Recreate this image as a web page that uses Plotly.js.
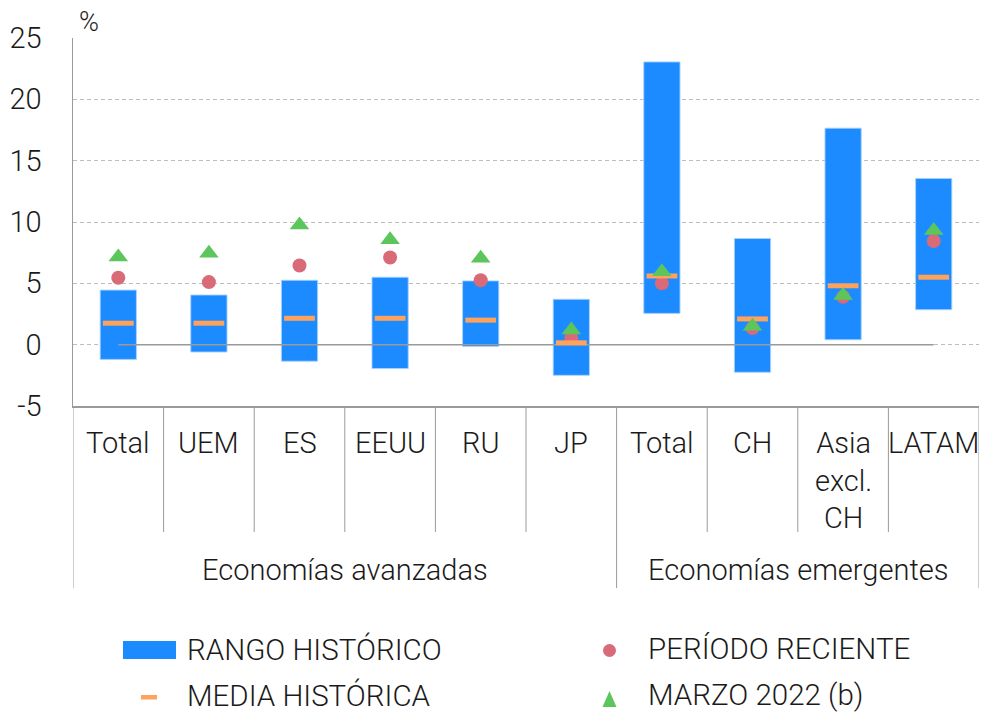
<!DOCTYPE html>
<html>
<head>
<meta charset="utf-8">
<script src="https://cdn.plot.ly/plotly-3.0.1.min.js"></script>
<style>html,body{margin:0;padding:0;background:#fff;}#chart{width:982px;height:713px;}</style>
</head>
<body>
<div id="chart"></div>
<script>
// ---- data ----
const categories = ['Total','UEM','ES','EEUU','RU','JP','Total','CH','Asia<br>excl.<br>CH','LATAM'];
const groups = ['Economías avanzadas','Economías emergentes'];
const groupSizes = [6, 4];
const rangeMin = [-1.2, -0.6, -1.35, -1.95, -0.15, -2.5, 2.55, -2.25, 0.4, 2.85];
const rangeMax = [4.45, 4.05, 5.25, 5.5, 5.2, 3.7, 23.05, 8.65, 17.65, 13.55];
const mediaHistorica = [1.75, 1.75, 2.15, 2.15, 2.0, 0.15, 5.6, 2.1, 4.8, 5.5];
const periodoReciente = [5.45, 5.1, 6.45, 7.1, 5.25, 0.55, 5.0, 1.35, 3.9, 8.45];
const marzo2022 = [7.15, 7.45, 9.75, 8.55, 7.05, 1.2, 5.95, 1.5, 4.0, 9.3];
const legendNames = ['RANGO HISTÓRICO','MEDIA HISTÓRICA','PERÍODO RECIENTE','MARZO 2022 (b)'];
const yTicks = [-5, 0, 5, 10, 15, 20, 25];
const yTickText = ['-5', '0', '5', '10', '15', '20', '25'];

// ---- styles ----
const FONT = 'Roboto, "Liberation Sans", Arial, sans-serif';
const TXT = '#1a1a1a';
const BLUE = '#1b8bff', ORANGE = '#ffa25c', RED = '#d96a78', GREEN = '#5cc65c', AX = '#9a9a9a';
const W = 982, H = 713, ML = 73, MR = 3, MT = 38, MB = 307;
const PW = W - ML - MR, PH = H - MT - MB;
const px2x = px => (px - ML) / PW;
const py2y = py => (H - MB - py) / PH;

const idx = categories.map((_, i) => i);

const traces = [
  {
    type: 'bar', x: idx, base: rangeMin,
    y: rangeMax.map((v, i) => v - rangeMin[i]),
    width: 0.4,
    marker: {color: BLUE, line: {color: 'rgba(170,210,255,0.9)', width: 1}},
    showlegend: false, hoverinfo: 'skip', name: legendNames[0]
  },
  {
    type: 'scatter', mode: 'lines', x: [idx[0], idx[idx.length - 1]], y: [0, 0],
    line: {color: AX, width: 1.5}, showlegend: false, hoverinfo: 'skip'
  },
  {
    type: 'scatter', mode: 'markers', x: idx, y: periodoReciente, name: legendNames[2],
    marker: {symbol: 'circle', size: 14, color: RED}, showlegend: false
  },
  {
    type: 'scatter', mode: 'markers', x: idx, y: mediaHistorica, name: legendNames[1],
    marker: {symbol: 'line-ew', size: 22, color: ORANGE, line: {color: ORANGE, width: 5}}, showlegend: false
  },
  {
    type: 'scatter', mode: 'markers', x: idx, y: marzo2022, name: legendNames[3],
    marker: {symbol: 'triangle-up', size: 17, color: GREEN}, showlegend: false
  }
];

const shapes = [];
const annotations = [];

// inner dividers & group dividers
let start = 0;
const groupBounds = [-0.5];
groupSizes.forEach(n => { start += n; groupBounds.push(start - 0.5); });
for (let i = 0; i < categories.length - 1; i++) {
  const b = i + 0.5;
  if (groupBounds.includes(b)) continue;
  shapes.push({type: 'line', xref: 'x', yref: 'paper', x0: b, x1: b, y0: 0, y1: py2y(532), line: {color: AX, width: 1}});
}
groupBounds.forEach(b => {
  shapes.push({type: 'line', xref: 'x', yref: 'paper', x0: b, x1: b, y0: 0, y1: py2y(588), line: {color: AX, width: 1}});
});

// category labels
categories.forEach((c, i) => {
  annotations.push({xref: 'x', yref: 'paper', x: i, y: py2y(424), yanchor: 'top', xanchor: 'center',
    text: c, showarrow: false, font: {family: FONT, size: 29, color: TXT, weight: 300}});
});
// group labels
let s = 0;
groups.forEach((g, k) => {
  const mid = s + (groupSizes[k] - 1) / 2;
  s += groupSizes[k];
  annotations.push({xref: 'x', yref: 'paper', x: mid, y: py2y(570), yanchor: 'middle', xanchor: 'center',
    text: g, showarrow: false, font: {family: FONT, size: 29, color: TXT, weight: 300}});
});
// % unit
annotations.push({xref: 'paper', yref: 'paper', x: px2x(77), y: py2y(22), xanchor: 'left', yanchor: 'middle',
  text: '%', showarrow: false, font: {family: FONT, size: 27, color: TXT, weight: 300}});

// manual legend
shapes.push({type: 'rect', xref: 'paper', yref: 'paper', x0: px2x(123), x1: px2x(176), y0: py2y(659), y1: py2y(641),
  fillcolor: BLUE, line: {width: 0}});
shapes.push({type: 'rect', xref: 'paper', yref: 'paper', x0: px2x(141), x1: px2x(157), y0: py2y(699.5), y1: py2y(695),
  fillcolor: ORANGE, line: {width: 0}});
shapes.push({type: 'circle', xref: 'paper', yref: 'paper', x0: px2x(603), x1: px2x(616), y0: py2y(657), y1: py2y(644),
  fillcolor: RED, line: {width: 0}});
shapes.push({type: 'path', xref: 'paper', yref: 'paper', xsizemode: 'pixel', ysizemode: 'pixel',
  xanchor: px2x(609.5), yanchor: py2y(699), path: 'M -7,-8 L 7,-8 L 0,8 Z', fillcolor: GREEN, line: {width: 0}});
[[186, 649, 0], [186, 695, 1], [647, 649, 2], [647, 695, 3]].forEach(([x, y, k]) => {
  annotations.push({xref: 'paper', yref: 'paper', x: px2x(x), y: py2y(y), xanchor: 'left', yanchor: 'middle',
    borderpad: 0, text: legendNames[k], showarrow: false,
    font: {family: FONT, size: 29.5, color: TXT, weight: 300}});
});

const layout = {
  width: W, height: H, autosize: false,
  margin: {l: ML, r: MR, t: MT, b: MB, pad: 0},
  paper_bgcolor: '#fff', plot_bgcolor: '#fff',
  showlegend: false,
  font: {family: FONT, color: TXT, weight: 300},
  xaxis: {range: [-0.5, categories.length - 0.5], showticklabels: false, ticks: '', showgrid: false,
    zeroline: false, showline: true, linecolor: AX, linewidth: 1.5, fixedrange: true},
  yaxis: {range: [yTicks[0], yTicks[yTicks.length - 1]], tickvals: yTicks, ticktext: yTickText, ticks: '', showgrid: true,
    gridcolor: '#bdbdbd', griddash: '4px,3px', gridwidth: 1, zeroline: false, showline: true,
    linecolor: AX, linewidth: 1.5, ticklabelstandoff: 24,
    tickfont: {family: FONT, size: 29, color: TXT, weight: 300}, fixedrange: true},
  shapes: shapes,
  annotations: annotations
};

Plotly.newPlot('chart', traces, layout, {displayModeBar: false, staticPlot: true});
</script>
</body>
</html>
